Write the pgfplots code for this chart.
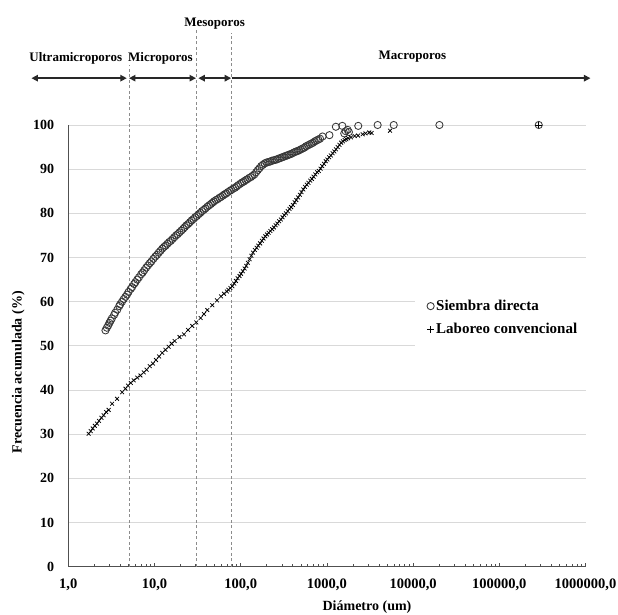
\documentclass[border=0pt]{standalone}
\usepackage{fontspec}
\setmainfont{Liberation Serif}
\usepackage{pgfplots}
\pgfplotsset{compat=1.18}
\usetikzlibrary{arrows.meta}
\definecolor{gridc}{RGB}{217,217,217}
\definecolor{axc}{RGB}{80,80,80}
\definecolor{mk}{RGB}{55,55,55}
\definecolor{dashc}{RGB}{140,140,140}
\definecolor{arrc}{RGB}{40,40,40}

\pgfplotstableread{
x y
2.7 53.5
2.8 54.1
2.9 54.6
3.0 55.2
3.1 55.7
3.2 56.2
3.4 57.0
3.5 57.5
3.7 58.2
3.9 59.0
4.0 59.4
4.2 60.0
4.4 60.6
4.6 61.1
4.8 61.6
5.0 62.2
5.3 62.9
5.5 63.3
5.8 64.0
6.0 64.4
6.3 65.0
6.6 65.5
7.0 66.2
7.3 66.6
7.6 67.1
8.0 67.7
8.4 68.2
8.8 68.7
9.2 69.1
9.7 69.7
10.2 70.2
10.7 70.6
11.2 71.1
11.7 71.5
12.3 72.0
12.9 72.4
13.5 72.7
14.1 73.1
14.8 73.5
15.5 73.8
16.2 74.2
17.0 74.6
17.8 75.0
18.6 75.3
19.5 75.7
20.5 76.1
21.5 76.5
22.5 76.9
23.5 77.3
24.6 77.6
25.8 78.0
27.0 78.4
28.3 78.7
29.6 79.1
31.0 79.4
32.5 79.8
34.0 80.1
35.6 80.5
37.3 80.8
39.0 81.1
41.0 81.5
43.0 81.8
45.0 82.1
47.0 82.4
49.0 82.7
51.5 83.0
54.0 83.2
56.5 83.5
59.0 83.7
62.0 84.0
65.0 84.3
68.0 84.5
71.0 84.8
75.0 85.1
78.0 85.3
82.0 85.6
86.0 85.8
90.0 86.1
94.0 86.4
99.0 86.7
104 87.0
109 87.2
114 87.5
119 87.7
125 88.0
131 88.2
137 88.5
144 88.8
151 89.3
158 89.8
165 90.2
173 90.7
181 91.0
190 91.3
199 91.5
208 91.6
218 91.7
229 91.9
240 92.0
251 92.1
263 92.2
275 92.4
288 92.5
302 92.7
316 92.8
331 93.0
347 93.1
363 93.3
380 93.4
398 93.6
417 93.8
437 94.0
457 94.1
479 94.3
501 94.5
525 94.7
550 94.9
575 95.2
603 95.4
631 95.6
661 95.8
692 96.0
725 96.3
759 96.5
795 96.7
832 96.9
890 97.4
1070 97.7
1270 99.6
1510 99.8
1590 98.1
1650 98.6
1740 98.9
1800 98.4
2310 99.8
3880 100.0
5960 100.0
20200 100.0
287000 100.0
}\siembra

\pgfplotstableread{
x y
1.72 30.1
1.82 30.7
1.92 31.3
2.03 31.9
2.15 32.4
2.27 33.0
2.42 33.7
2.57 34.3
2.75 35.0
2.94 35.5
3.22 36.9
3.68 38.0
4.21 39.5
4.60 40.3
4.93 41.0
5.30 41.6
5.74 42.2
6.30 42.8
6.87 43.3
7.50 44.0
8.10 44.6
8.80 45.4
9.60 46.0
10.4 46.8
11.3 47.6
12.3 48.4
13.4 49.1
14.6 49.8
15.8 50.5
17.1 51.1
19.5 52.0
22.0 52.6
24.5 53.6
27.4 54.5
30.5 55.3
34.3 56.3
37.5 57.2
41.0 58.1
46.8 59.2
53.0 60.3
59.0 61.2
64.0 61.8
69 62.3
72 62.7
76 63.1
80 63.5
84 64.1
88 64.7
92 65.3
97 65.8
101 66.3
106 66.9
111 67.5
116 68.1
121 68.8
127 69.6
133 70.4
139 71.1
146 71.7
153 72.2
160 72.7
168 73.2
176 73.8
184 74.3
193 74.8
202 75.2
211 75.6
221 76.0
232 76.4
243 76.8
254 77.3
266 77.7
279 78.2
292 78.6
306 79.1
320 79.6
335 80.0
351 80.5
368 81.0
385 81.4
403 81.9
422 82.5
442 83.0
463 83.6
485 84.2
508 84.8
532 85.4
557 86.0
583 86.5
611 86.9
640 87.4
670 87.8
701 88.3
734 88.8
769 89.3
805 89.6
843 90.1
883 90.7
924 91.2
968 91.8
1013 92.2
1061 92.7
1111 93.1
1163 93.6
1218 94.0
1275 94.5
1335 95.0
1398 95.5
1464 96.0
1533 96.3
1605 96.6
1680 96.8
1760 97.0
1900 97.2
2100 97.5
2300 97.6
2600 97.9
2800 98.1
3100 98.3
3300 98.2
5400 98.7
}\laboreo

\begin{document}
\begin{tikzpicture}[x=1pt,y=1pt]
\useasboundingbox (0,0) rectangle (618,615);
\begin{axis}[
  at={(68.3pt,48.3pt)}, anchor=south west,
  scale only axis, width=517.2pt, height=441.7pt,
  xmode=log, xmin=1, xmax=1e6, ymin=0, ymax=100,
  clip=false,
  axis x line=bottom, axis y line=left,
  axis line style={-, draw=axc, line width=0.9pt},
  xtick={1,10,100,1000,10000,100000,1000000},
  xticklabels={{1,0},{10,0},{100,0},{1000,0},{10000,0},{100000,0},{1000000,0}},
  minor xtick={2,3,4,5,6,7,8,9,20,30,40,50,60,70,80,90,200,300,400,500,600,700,800,900,2000,3000,4000,5000,6000,7000,8000,9000,20000,30000,40000,50000,60000,70000,80000,90000,200000,300000,400000,500000,600000,700000,800000,900000},
  ytick={0,10,...,100},
  tick align=inside,
  major tick length=4pt, minor tick length=3pt,
  xtick style={draw=axc, line width=0.6pt},
  ytick style={draw=none},
  ymajorgrids, major grid style={draw=gridc, line width=0.8pt},
  /pgf/number format/assume math mode=true,
  xticklabel style={font=\fontsize{14.5}{16}\selectfont\bfseries, anchor=north, inner sep=0pt, yshift=-12pt},
  yticklabel style={font=\fontsize{14}{16}\selectfont\bfseries, anchor=east, inner sep=0pt, xshift=-14pt},
  xlabel={Diámetro (um)},
  ylabel={Frecuencia acumulada (\%)},
  xlabel style={font=\fontsize{14}{16}\selectfont\bfseries, at={(axis description cs:0.5775,-0.091)}, anchor=center},
  ylabel style={font=\fontsize{14}{16}\selectfont\bfseries, at={(axis description cs:-0.0967,0.44)}, anchor=center},
  legend image code/.code={\draw[#1] plot coordinates {(0pt,0pt)};},
  legend style={at={(axis description cs:0.670,0.6378)}, anchor=north west, draw=none, fill=white,
    font=\fontsize{15}{18}\selectfont\bfseries, row sep=7.3pt, inner xsep=12pt, inner ysep=13pt},
  legend cell align=left,
]
\draw[dashc, line width=0.7pt, dash pattern=on 3pt off 2.5pt] (axis cs:5.06,0) -- (axis cs:5.06,113.5);
\draw[dashc, line width=0.7pt, dash pattern=on 3pt off 2.5pt] (axis cs:30.3,0) -- (axis cs:30.3,121.7);
\draw[dashc, line width=0.7pt, dash pattern=on 3pt off 2.5pt] (axis cs:78.5,0) -- (axis cs:78.5,120.8);

\addplot[only marks, mark=o, mark size=3.6pt, draw=mk, mark options={line width=0.85pt}] table {\siembra};
\addlegendentry{Siembra directa}
\addplot[only marks, mark=x, mark size=2.7pt, draw=black, mark options={line width=0.75pt},
  legend image post style={mark=+, mark size=3.3pt}] table {\laboreo};
\addlegendentry{Laboreo convencional}
\addplot[only marks, mark=+, mark size=3.4pt, draw=black, mark options={line width=0.7pt}, forget plot] coordinates {(287000,100)};

\draw[arrc, line width=1.4pt, {Triangle[length=6.5pt,width=6.5pt]}-{Triangle[length=6.5pt,width=6.5pt]}] (axis cs:0.374,110.6) -- (axis cs:4.77,110.6);
\draw[arrc, line width=1.4pt, {Triangle[length=6.5pt,width=6.5pt]}-{Triangle[length=6.5pt,width=6.5pt]}] (axis cs:5.06,110.6) -- (axis cs:30.3,110.6);
\draw[arrc, line width=1.4pt, {Triangle[length=6.5pt,width=6.5pt]}-{Triangle[length=6.5pt,width=6.5pt]}] (axis cs:32.3,110.6) -- (axis cs:77.5,110.6);
\draw[arrc, line width=1.4pt, -{Triangle[length=6.5pt,width=6.5pt]}] (axis cs:78.5,110.6) -- (axis cs:1.14e6,110.6);

\node[font=\fontsize{13}{15}\selectfont\bfseries, anchor=base] at (axis cs:1.22,114.3) {Ultramicroporos};
\node[font=\fontsize{13}{15}\selectfont\bfseries, anchor=base] at (axis cs:11.7,114.3) {Microporos};
\node[font=\fontsize{13}{15}\selectfont\bfseries, anchor=base] at (axis cs:49.8,122.4) {Mesoporos};
\node[font=\fontsize{13}{15}\selectfont\bfseries, anchor=base] at (axis cs:9820,114.9) {Macroporos};
\end{axis}
\end{tikzpicture}
\end{document}
